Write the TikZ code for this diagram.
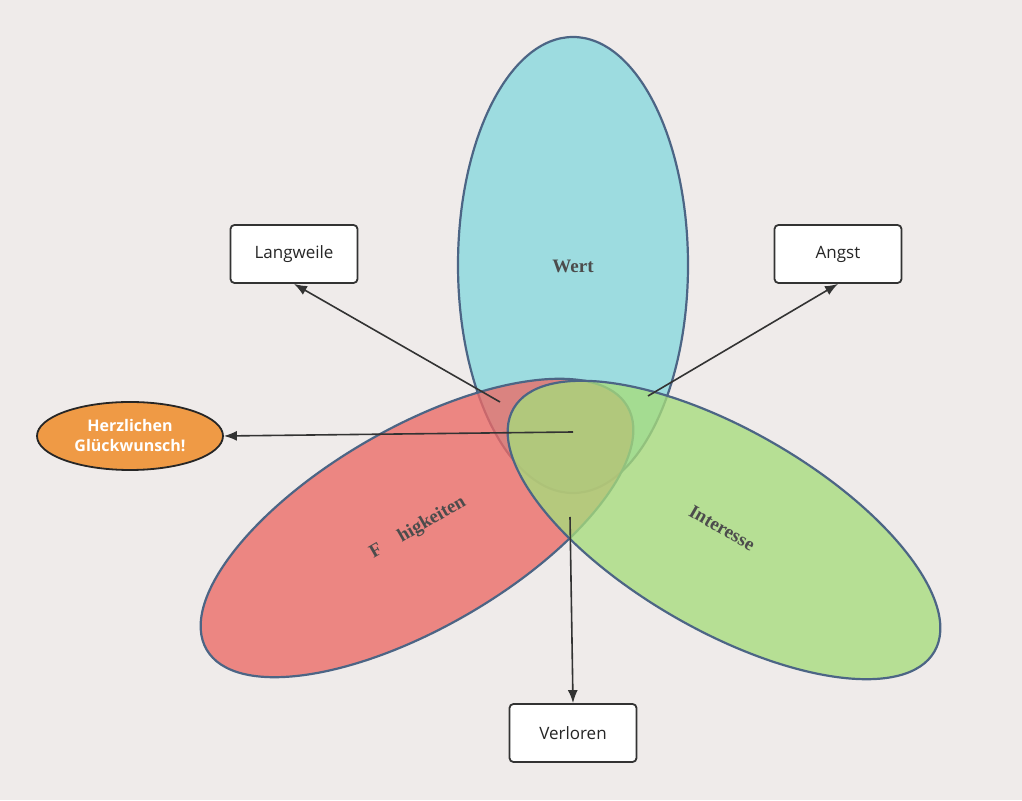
\documentclass[tikz,border=0pt]{standalone}
\usepackage{fontspec}
\newfontfamily\boxfont{Open Sans}
\newfontfamily\lblfont{Liberation Serif}
\usetikzlibrary{arrows.meta,shapes.geometric}
\definecolor{bg}{HTML}{EFEBEA}
\definecolor{edge}{HTML}{4C6585}
\definecolor{cblue}{HTML}{86D8DE}
\definecolor{cred}{HTML}{EC6A66}
\definecolor{cgreen}{HTML}{A6DC7C}
\definecolor{corange}{HTML}{EF9A45}
\tikzset{
 petal/.style={draw=edge,line width=2.2pt,fill opacity=0.78},
 lbl/.style={font=\lblfont\fontsize{19}{22}\selectfont\bfseries,text=black!70},
 boxn/.style={draw=black!80,line width=1.8pt,rounded corners=4pt,fill=white,minimum width=127pt,minimum height=58pt,font=\boxfont\fontsize{17}{20}\selectfont,text=black!85},
 arr/.style={draw=black!80,line width=1.6pt,-{Latex[length=13pt,width=10pt]}}
}
\begin{document}
\begin{tikzpicture}[x=1pt,y=1pt]
\fill[bg] (0,0) rectangle (1022,800);
\useasboundingbox (0,0) rectangle (1022,800);
\path[petal,fill=cblue] (573,535) ellipse [x radius=115,y radius=228];
\path[petal,fill=cred] (417,272) [rotate around={30:(417,272)}] ellipse [x radius=243,y radius=100];
\path[petal,fill=cgreen] (724,270) [rotate around={-30:(724,270)}] ellipse [x radius=243,y radius=100];
\node[lbl] (wert) at (573,534) {Wert};
\node[lbl,rotate=30] (fah) at (418,272) {F\hspace{1.1em}higkeiten};
\node[lbl,rotate=-30] (int) at (722,272) {Interesse};
\node[boxn] (lang) at (294,546) {Langweile};
\node[boxn] (angst) at (838,546) {Angst};
\node[boxn] (verl) at (573,67) {Verloren};
\node[ellipse,draw=black!85,line width=1.8pt,fill=corange,minimum width=186pt,minimum height=68pt,inner sep=0pt,align=center,font=\boxfont\fontsize{16}{20}\selectfont\bfseries,text=white] (herz) at (130,364) {Herzlichen\\Glückwunsch!};
\coordinate (s1) at (500,398);
\coordinate (s2) at (648,404);
\coordinate (s3) at (573,368);
\coordinate (s4) at (570,283);
\draw[arr] (s1) -- (lang.south);
\draw[arr] (s2) -- (angst.south);
\draw[arr] (s3) -- (herz.east);
\draw[arr] (s4) -- (verl.north);
\end{tikzpicture}
\end{document}
